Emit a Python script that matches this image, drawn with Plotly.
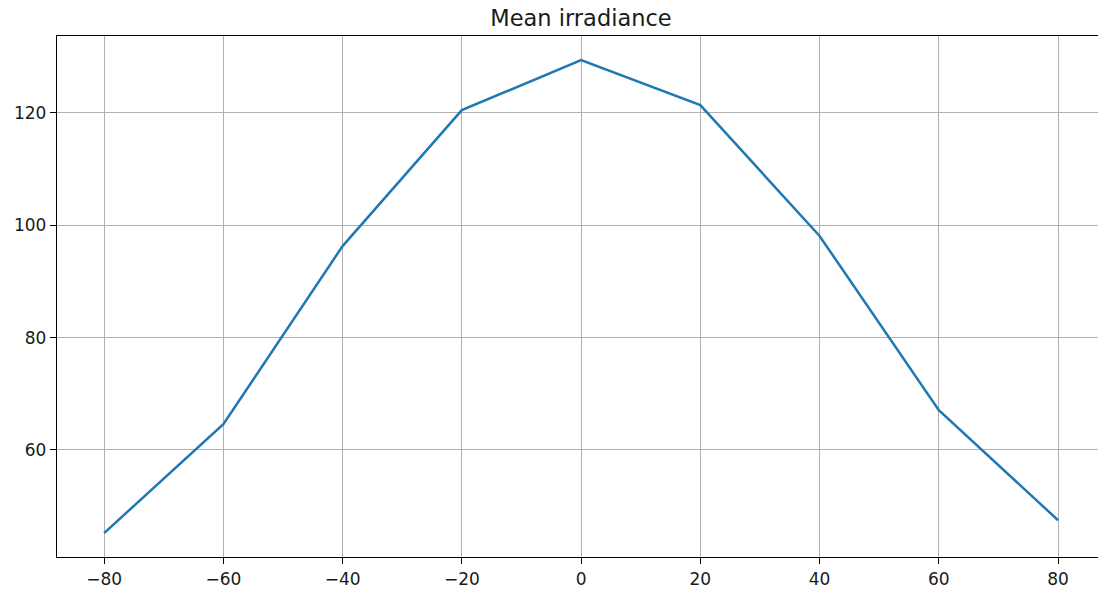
import plotly.graph_objects as go

# Latitude bins (degrees) and mean irradiance per bin
latitude = [-80, -60, -40, -20, 0, 20, 40, 60, 80]
irradiance = [45.2, 64.6, 96.3, 120.5, 129.4, 121.4, 98.1, 67.1, 47.5]

x_ticks = [-80, -60, -40, -20, 0, 20, 40, 60, 80]
y_ticks = [60, 80, 100, 120]

fig = go.Figure()
fig.add_trace(go.Scatter(
    x=latitude, y=irradiance, mode="lines",
    line=dict(color="#1f77b4", width=2.5),
    showlegend=False,
))

axis_font = dict(family="DejaVu Sans", size=17, color="#1a1a1a")

fig.update_layout(
    width=1098, height=590,
    margin=dict(l=57, r=0, t=36, b=33),
    paper_bgcolor="white", plot_bgcolor="white",
    title=dict(
        text="Mean irradiance",
        font=dict(family="DejaVu Sans", size=22.5, color="#1a1a1a"),
        x=(581 - 57) / 1041, xref="paper", xanchor="center",
        y=1 - 18 / 590, yref="container", yanchor="middle",
    ),
    xaxis=dict(
        range=[-87.9, 86.7], tickvals=x_ticks,
        showgrid=True, gridcolor="#b0b0b0", gridwidth=1,
        zeroline=False, showline=True, linecolor="black", linewidth=1.3,
        mirror=True, ticks="outside", ticklen=6, tickcolor="black",
        tickfont=axis_font,
    ),
    yaxis=dict(
        range=[40.95, 133.7], tickvals=y_ticks,
        showgrid=True, gridcolor="#b0b0b0", gridwidth=1,
        zeroline=False, showline=True, linecolor="black", linewidth=1.3,
        mirror=False, ticks="outside", ticklen=6, tickcolor="black",
        tickfont=axis_font,
    ),
)

fig.write_html("out.html")
